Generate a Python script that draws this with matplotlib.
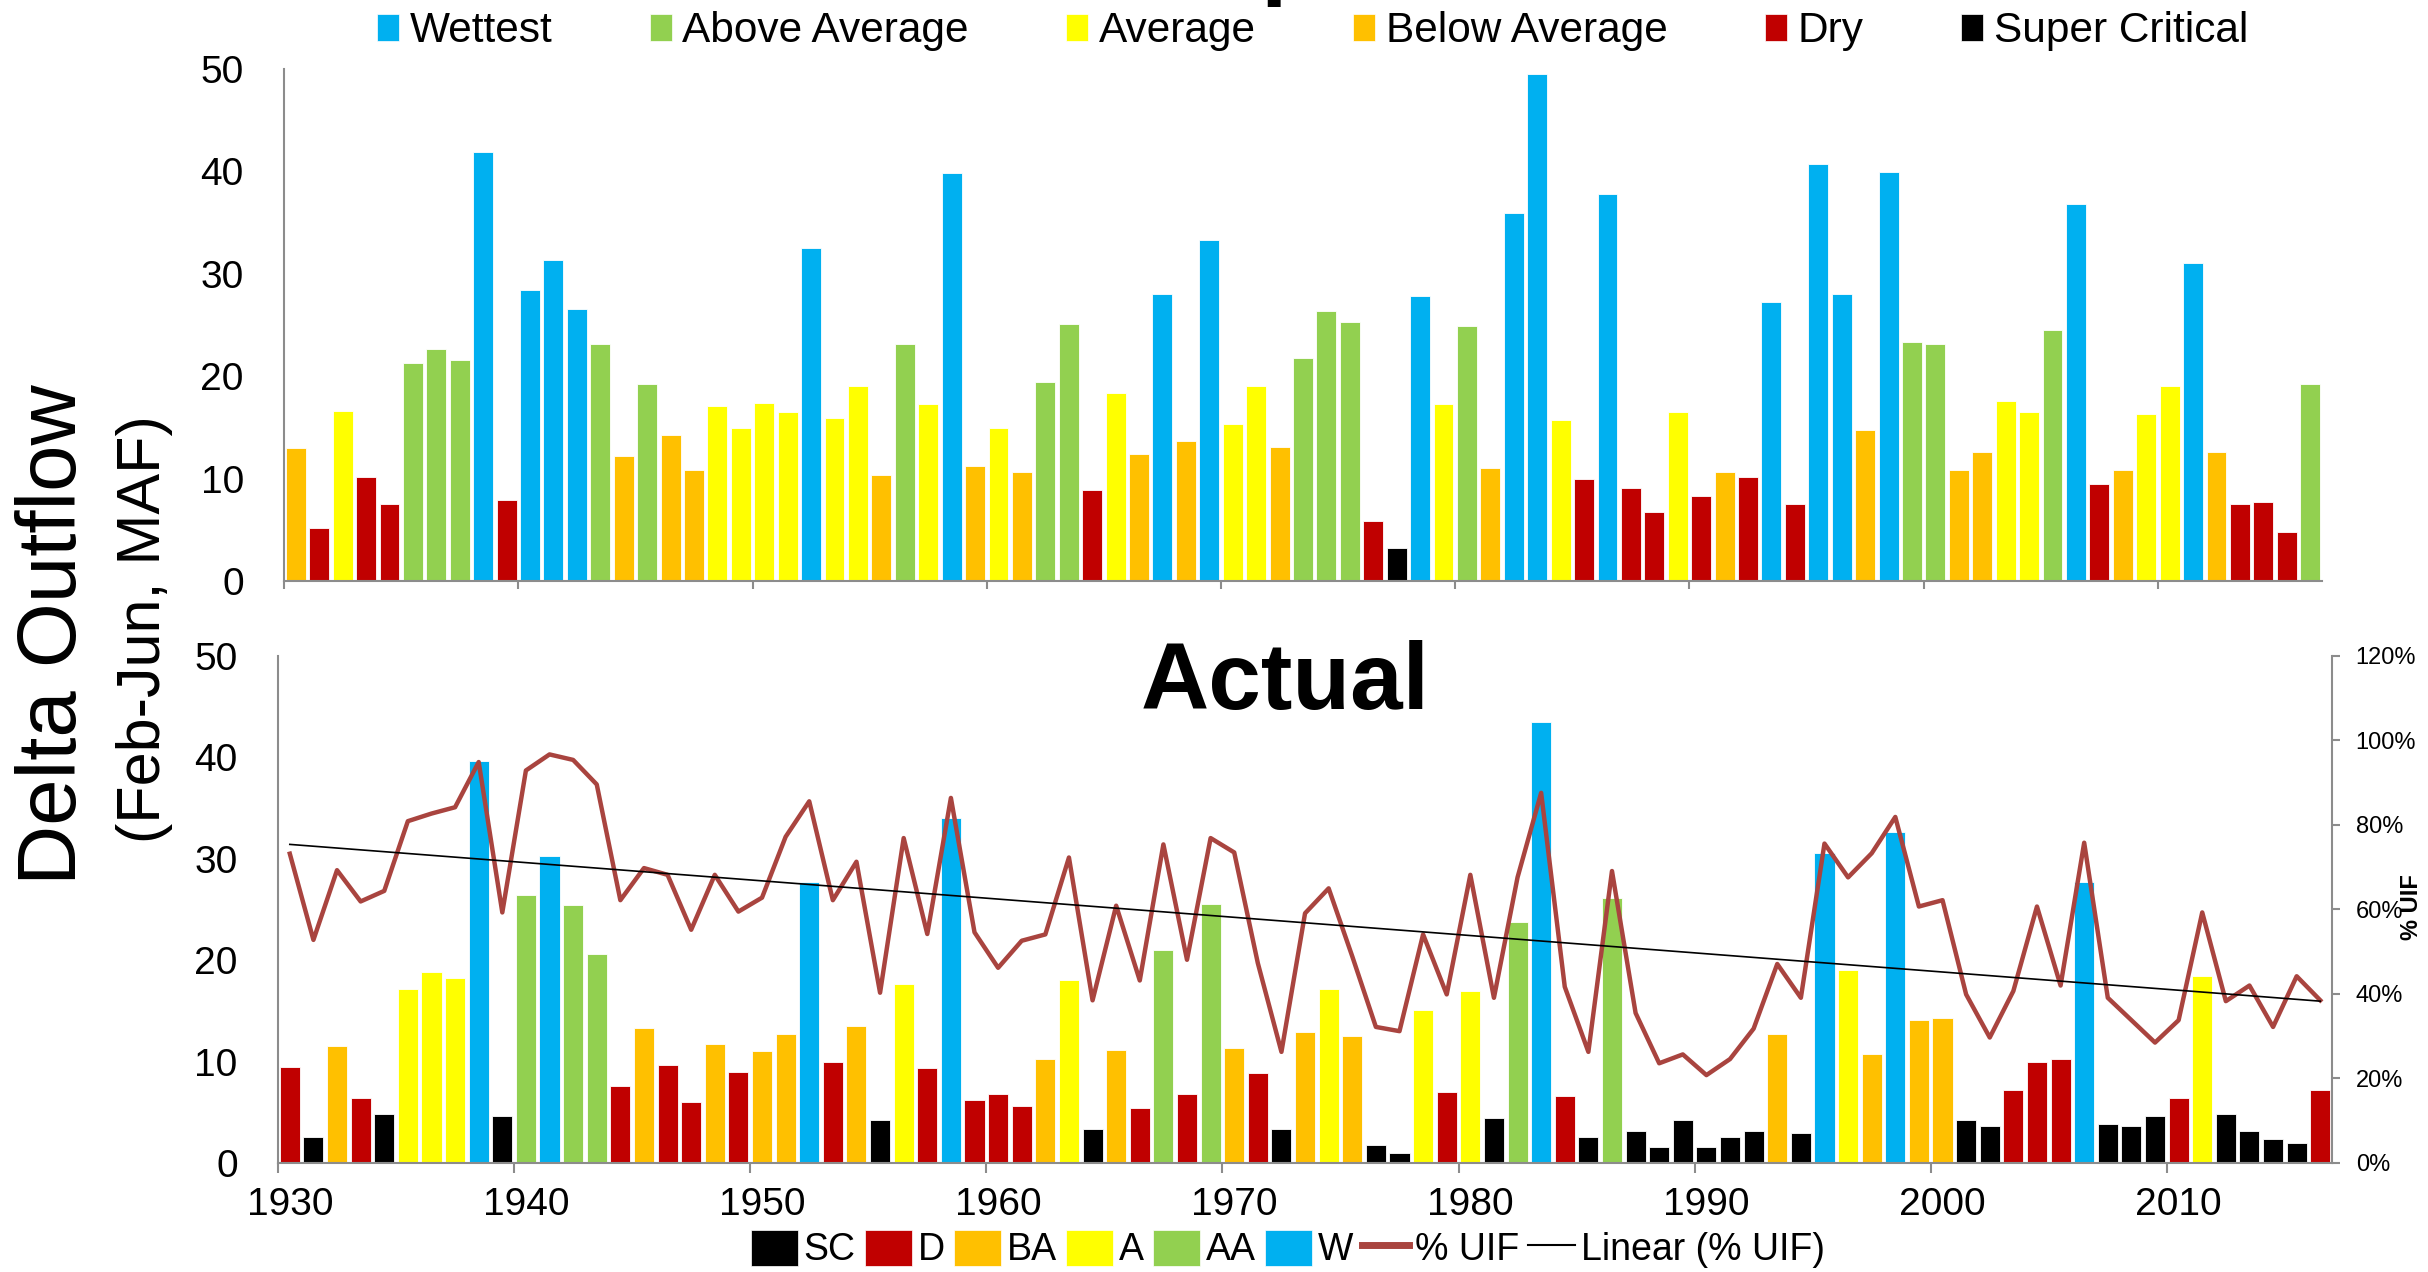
import numpy as np
import matplotlib
matplotlib.use("Agg")
import matplotlib.pyplot as plt
from matplotlib.patches import Patch
from matplotlib.lines import Line2D
from matplotlib.ticker import FuncFormatter

plt.rcParams['font.family'] = ['Liberation Sans', 'DejaVu Sans']

years = list(range(1930, 2017))

# top panel (unimpaired) Feb-Jun delta outflow, MAF
unimpaired = [13.0, 5.2, 16.6, 10.2, 7.5, 21.3, 22.7, 21.6, 41.9, 7.9,
              28.4, 31.3, 26.6, 23.1, 12.2, 19.2, 14.3, 10.8, 17.1, 14.9,
              17.4, 16.5, 32.5, 15.9, 19.0, 10.4, 23.1, 17.3, 39.8, 11.2,
              14.9, 10.6, 19.4, 25.1, 8.9, 18.4, 12.4, 28.0, 13.7, 33.3,
              15.3, 19.0, 13.1, 21.8, 26.4, 25.3, 5.9, 3.2, 27.8, 17.3,
              24.9, 11.0, 35.9, 49.5, 15.7, 10.0, 37.8, 9.1, 6.7, 16.5,
              8.3, 10.6, 10.2, 27.2, 7.5, 40.7, 28.0, 14.7, 39.9, 23.3,
              23.1, 10.8, 12.6, 17.6, 16.5, 24.5, 36.8, 9.5, 10.8, 16.3,
              19.0, 31.1, 12.6, 7.5, 7.7, 4.8, 19.2]
unimpaired_class = ("BA D A D D AA AA AA W D "
                    "W W W AA BA AA BA BA A A "
                    "A A W A A BA AA A W BA "
                    "A BA AA AA D A BA W BA W "
                    "A A BA AA AA AA D SC W A "
                    "AA BA W W A D W D D A "
                    "D BA D W D W W BA W AA "
                    "AA BA BA A A AA W D BA A "
                    "A W BA D D D AA").split()

# bottom panel (actual)
actual = [9.5, 2.6, 11.5, 6.4, 4.8, 17.2, 18.8, 18.2, 39.6, 4.6,
          26.4, 30.3, 25.4, 20.6, 7.6, 13.3, 9.7, 6.0, 11.7, 9.0,
          11.0, 12.7, 27.7, 10.0, 13.5, 4.2, 17.7, 9.4, 34.0, 6.2,
          6.8, 5.6, 10.3, 18.0, 3.4, 11.1, 5.4, 21.0, 6.8, 25.5,
          11.3, 8.9, 3.4, 12.9, 17.2, 12.5, 1.8, 1.0, 15.1, 7.0,
          17.0, 4.4, 23.8, 43.5, 6.6, 2.6, 26.1, 3.2, 1.6, 4.2,
          1.6, 2.6, 3.2, 12.7, 3.0, 30.6, 19.0, 10.7, 32.6, 14.1,
          14.3, 4.2, 3.6, 7.2, 10.0, 10.3, 27.7, 3.8, 3.6, 4.6,
          6.4, 18.4, 4.8, 3.2, 2.4, 2.0, 7.2]
actual_class = ("D SC BA D SC A A A W SC "
                "AA W AA AA D BA D D BA D "
                "BA BA W D BA SC A D W D "
                "D D BA A SC BA D AA D AA "
                "BA D SC BA A BA SC SC A D "
                "A SC AA W D SC AA SC SC SC "
                "SC SC SC BA SC W A BA W BA "
                "BA SC SC D D D W SC SC SC "
                "D A SC SC SC SC D").split()

# percent of unimpaired flow
uif = [73.2, 52.8, 69.3, 61.9, 64.4, 80.9, 82.7, 84.2, 94.9, 59.3,
       92.9, 96.7, 95.4, 89.6, 62.2, 69.8, 68.2, 55.2, 68.2, 59.5,
       62.8, 77.2, 85.6, 62.2, 71.3, 40.3, 76.9, 54.2, 86.4, 54.6,
       46.2, 52.6, 54.1, 72.3, 38.5, 60.9, 43.2, 75.4, 48.1, 76.9,
       73.5, 47.3, 26.3, 59.1, 65.0, 48.9, 32.2, 31.2, 54.1, 39.9,
       68.2, 39.1, 67.6, 87.6, 41.7, 26.3, 69.1, 35.5, 23.6, 25.7,
       20.8, 24.6, 31.8, 47.1, 39.1, 75.6, 67.6, 73.3, 81.9, 60.7,
       62.2, 39.9, 29.7, 40.7, 60.7, 42.0, 75.8, 39.1, 33.8, 28.5,
       33.8, 59.3, 38.3, 42.0, 32.2, 44.2, 38.5]

class_codes = ["SC", "D", "BA", "A", "AA", "W"]
class_names = {"W": "Wettest", "AA": "Above Average", "A": "Average",
               "BA": "Below Average", "D": "Dry", "SC": "Super Critical"}
class_colors = {"W": "#00B0F0", "AA": "#92D050", "A": "#FFFF00",
                "BA": "#FFC000", "D": "#C00000", "SC": "#000000"}
line_color = "#A9443F"
axis_gray = "#8C8C8C"

decades = list(range(1930, 2020, 10))
bounds = [d - 0.5 for d in decades]

fig = plt.figure(figsize=(24.28, 12.72), dpi=100)
ax1 = fig.add_axes([0.117, 0.5432, 0.8393, 0.4026])
ax2 = fig.add_axes([0.1145, 0.0857, 0.846, 0.3986])
ax2r = ax2.twinx()

# top panel
ax1.bar(years, unimpaired, width=0.85,
        color=[class_colors[c] for c in unimpaired_class],
        edgecolor="white", linewidth=0.6)
ax1.set_xlim(1929.5, 2016.5)
ax1.set_ylim(0, 50)
ax1.set_yticks(range(0, 51, 10))
ax1.set_xticks(bounds)
ax1.set_xticklabels([])
ax1.tick_params(axis="y", length=0, labelsize=28, pad=29)
ax1.tick_params(axis="x", length=6, width=1.5, color=axis_gray, direction="out")

# bottom panel
ax2.bar(years, actual, width=0.85,
        color=[class_colors[c] for c in actual_class],
        edgecolor="white", linewidth=0.6)
ax2.set_xlim(1929.5, 2016.5)
ax2.set_ylim(0, 50)
ax2.set_yticks(range(0, 51, 10))
ax2.set_xticks(bounds)
ax2.set_xticklabels([])
ax2.set_xticks(decades, [str(d) for d in decades], minor=True)
ax2.tick_params(axis="y", length=0, labelsize=28, pad=29)
ax2.tick_params(axis="x", which="major", length=7, width=1.5,
                color=axis_gray, direction="out")
ax2.tick_params(axis="x", which="minor", length=0, labelsize=28, pad=17)

uif_frac = np.array(uif) / 100.0
ax2r.plot(years, uif_frac, color=line_color, linewidth=3.2)
slope, icpt = np.polyfit(years, uif_frac, 1)
yr = np.array([years[0], years[-1]])
ax2r.plot(yr, slope * yr + icpt, color="black", linewidth=1.2)
ax2r.set_ylim(0, 1.2)
ax2r.set_yticks(np.arange(0, 1.21, 0.2))
ax2r.yaxis.set_major_formatter(FuncFormatter(lambda v, p: f"{v * 100:.0f}%"))
ax2r.tick_params(axis="y", length=6, width=1.5, color=axis_gray,
                 direction="out", labelsize=17, pad=11)

for ax in (ax1, ax2, ax2r):
    for s in ("top", "right", "left", "bottom"):
        ax.spines[s].set_visible(False)
for ax in (ax1, ax2):
    ax.spines["left"].set_visible(True)
    ax.spines["bottom"].set_visible(True)
    ax.spines["left"].set_color(axis_gray)
    ax.spines["bottom"].set_color(axis_gray)
    ax.spines["left"].set_linewidth(1.5)
    ax.spines["bottom"].set_linewidth(1.5)
ax2r.spines["right"].set_visible(True)
ax2r.spines["right"].set_color(axis_gray)
ax2r.spines["right"].set_linewidth(1.5)

# titles and labels (top title sits mostly above the canvas, as in the source)
fig.text(0.5293, 1 + 13 / 1272, "Unimpaired", ha="center", va="baseline",
         fontsize=68, fontweight="bold")
fig.text(0.5293, 1 - 709 / 1272, "Actual", ha="center", va="baseline",
         fontsize=68, fontweight="bold")
fig.text(0.0222, 0.5008, "Delta Outflow", rotation=90, ha="center",
         va="center", fontsize=60)
fig.text(0.0597, 0.5055, "(Feb-Jun, MAF)", rotation=90, ha="center",
         va="center", fontsize=44)
fig.text(0.9934, 1 - 907 / 1272, "% UIF", rotation=90, ha="center",
         va="center", fontsize=17, fontweight="bold")

# legends
top_order = ["W", "AA", "A", "BA", "D", "SC"]
top_handles = [Patch(facecolor=class_colors[c], edgecolor="white", linewidth=0.5)
               for c in top_order]
fig.legend(top_handles, [class_names[c] for c in top_order], loc="center",
           bbox_to_anchor=(0.5405, 1 - 31 / 1272), ncol=6, frameon=False,
           fontsize=30.5, handlelength=0.52, handleheight=0.6,
           handletextpad=0.25, columnspacing=2.3, borderpad=0, borderaxespad=0)

bot_handles = [Patch(facecolor=class_colors[c], edgecolor="white", linewidth=0.5)
               for c in class_codes]
bot_handles += [Line2D([0], [0], color=line_color, linewidth=5),
                Line2D([0], [0], color="black", linewidth=1.5)]
bot_labels = class_codes + ["% UIF", "Linear (% UIF)"]
fig.legend(bot_handles, bot_labels, loc="center",
           bbox_to_anchor=(0.5305, 1 - 1249 / 1272), ncol=8, frameon=False,
           fontsize=27, handlelength=1.25, handleheight=1.1,
           handletextpad=0.15, columnspacing=0.25, borderpad=0, borderaxespad=0)

fig.savefig("out.png", dpi=100)
